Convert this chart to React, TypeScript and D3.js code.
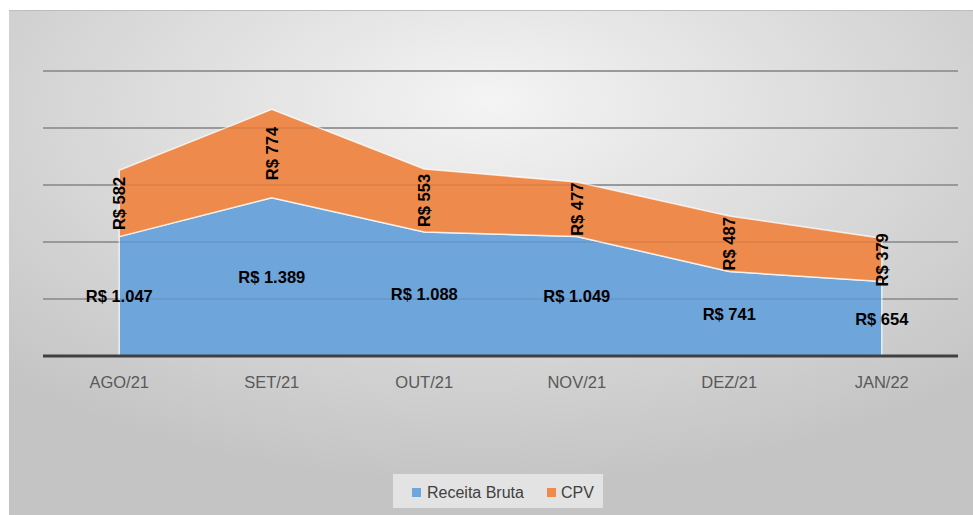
import React from "react";
import * as d3 from "d3";

const categories = ["AGO/21", "SET/21", "OUT/21", "NOV/21", "DEZ/21", "JAN/22"];
const receitaBruta = [1047, 1389, 1088, 1049, 741, 654];
const cpv = [582, 774, 553, 477, 487, 379];
const yTicks = [0, 500, 1000, 1500, 2000, 2500];
const seriesNames = ["Receita Bruta", "CPV"];

const W = 973;
const H = 515;
const BLUE = "#6ea5da";
const ORANGE = "#ee8b4c";

const fmt = (v: number) => "R$ " + d3.format(",")(v).replace(/,/g, ".");

export default function App() {
  const plotL = 43, plotR = 958;
  const x = d3.scaleBand<string>().domain(categories).range([plotL, plotR]);
  const cx = (c: string) => (x(c) as number) + x.bandwidth() / 2;
  const y = d3.scaleLinear().domain([0, 2500]).range([356, 71]);

  const rows = categories.map((c, i) => ({ c, a: receitaBruta[i], b: cpv[i] }));
  const stack = d3.stack<any>().keys(["a", "b"])(rows as any);
  const area = d3
    .area<any>()
    .x((d) => cx(d.data.c))
    .y0((d) => y(d[0]))
    .y1((d) => y(d[1]));
  const colors = [BLUE, ORANGE];

  const labelFont = "'Liberation Sans', Arial, sans-serif";

  return (
    <svg width={W} height={H} style={{ position: "absolute", left: 0, top: 0 }}>
      <defs>
        <radialGradient id="bg" cx="50%" cy="22%" r="72%" fx="50%" fy="18%">
          <stop offset="0%" stopColor="#f4f4f4" />
          <stop offset="50%" stopColor="#dcdcdc" />
          <stop offset="100%" stopColor="#c4c4c4" />
        </radialGradient>
      </defs>
      <rect x={0} y={0} width={W} height={H} fill="#ffffff" />
      <rect x={9} y={10} width={W - 9} height={H - 10} fill="url(#bg)" />
      <line x1={9} x2={W} y1={10.5} y2={10.5} stroke="#bdbdbd" strokeWidth={1} />

      {yTicks.filter((t) => t > 0).map((t) => (
        <line key={"g" + t} x1={plotL} x2={plotR} y1={y(t)} y2={y(t)} stroke="#a3a3a3" strokeWidth={2} />
      ))}

      {stack.map((s, i) => (
        <path key={"a" + i} d={area(s as any) as string} fill={colors[i]} stroke="#ffffff" strokeOpacity={0.75} strokeWidth={1.5} />
      ))}

      {yTicks.filter((t) => t > 0).map((t) => (
        <line key={"g2" + t} x1={plotL} x2={plotR} y1={y(t)} y2={y(t)} stroke="#000" strokeOpacity={0.06} strokeWidth={2} />
      ))}

      <line x1={plotL} x2={plotR} y1={y(0)} y2={y(0)} stroke="#404040" strokeWidth={3} />

      {categories.map((c) => (
        <text key={"x" + c} x={cx(c)} y={382} textAnchor="middle" dominantBaseline="central" fontFamily={labelFont} fontSize={16.5} fill="#595959">
          {c}
        </text>
      ))}

      {rows.map((r) => (
        <text key={"lb" + r.c} x={cx(r.c)} y={y(r.a / 2)} textAnchor="middle" dominantBaseline="central" fontFamily={labelFont} fontWeight="bold" fontSize={16.5} fill="#000">
          {fmt(r.a)}
        </text>
      ))}

      {rows.map((r) => {
        const px = cx(r.c);
        const py = y(r.a + r.b / 2);
        return (
          <text key={"lo" + r.c} x={0} y={0} transform={`translate(${px},${py}) rotate(-90)`} textAnchor="middle" dominantBaseline="central" fontFamily={labelFont} fontWeight="bold" fontSize={16.5} fill="#000">
            {fmt(r.b)}
          </text>
        );
      })}

      <g>
        <rect x={393} y={474} width={210} height={34} fill="#e3e3e3" />
        <rect x={412} y={488} width={9} height={9} fill={BLUE} />
        <text x={427} y={492} dominantBaseline="central" fontFamily={labelFont} fontSize={16} fill="#404040">
          {seriesNames[0]}
        </text>
        <rect x={547} y={488} width={9} height={9} fill={ORANGE} />
        <text x={561} y={492} dominantBaseline="central" fontFamily={labelFont} fontSize={16} fill="#404040">
          {seriesNames[1]}
        </text>
      </g>
    </svg>
  );
}
